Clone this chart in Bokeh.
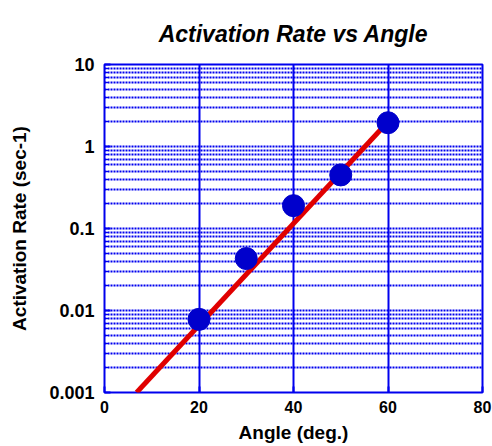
from bokeh.plotting import figure
from bokeh.models import FixedTicker, Range1d
from bokeh.embed import file_html
from bokeh.resources import INLINE

angles = [20, 30, 40, 50, 60]
rates = [0.0078, 0.043, 0.19, 0.45, 1.95]
fit_x = [6.8, 60]
fit_y = [0.001, 2.0]
x_ticks = [0, 20, 40, 60, 80]
y_ticks = [0.001, 0.01, 0.1, 1, 10]
y_labels = ["0.001", "0.01", "0.1", "1", "10"]
y_minor = [m * d for d in [0.001, 0.01, 0.1, 1] for m in range(2, 10)]

BLUE = "#0000ee"
FONT = "Liberation Sans"

p = figure(frame_width=378, frame_height=328, y_axis_type="log",
           x_range=Range1d(0, 80), y_range=Range1d(0.001, 10),
           output_backend="svg", toolbar_location=None,
           title="Activation Rate vs Angle",
           min_border_left=104, min_border_right=10,
           min_border_top=64, min_border_bottom=54)

p.title.align = "center"
p.title.text_font = FONT
p.title.text_font_style = "bold italic"
p.title.text_font_size = "23px"
p.title.text_color = "black"
p.title.standoff = 36

p.xaxis.ticker = FixedTicker(ticks=x_ticks, minor_ticks=[])
p.yaxis.ticker = FixedTicker(ticks=y_ticks, minor_ticks=y_minor)
p.yaxis.major_label_overrides = {t: l for t, l in zip(y_ticks, y_labels)}

for ax in (p.xaxis, p.yaxis):
    ax.axis_line_color = None
    ax.major_tick_out = 0
    ax.major_tick_in = 6
    ax.minor_tick_out = 0
    ax.minor_tick_in = 4
    ax.major_tick_line_color = BLUE
    ax.minor_tick_line_color = BLUE
    ax.major_tick_line_width = 2
    ax.major_label_text_font = FONT
    ax.major_label_text_font_style = "bold"
    ax.major_label_text_color = "black"
    ax.axis_label_text_font = FONT
    ax.axis_label_text_font_style = "bold"
    ax.axis_label_text_font_size = "19px"
    ax.axis_label_text_color = "black"

p.xaxis.major_label_text_font_size = "16px"
p.yaxis.major_label_text_font_size = "18px"
p.xaxis.axis_label = "Angle (deg.)"
p.yaxis.axis_label = "Activation Rate (sec-1)"
p.xaxis.major_label_standoff = 8
p.yaxis.major_label_standoff = 10
p.xaxis.axis_label_standoff = 6
p.yaxis.axis_label_standoff = 16

p.xgrid.grid_line_color = BLUE
p.xgrid.grid_line_width = 2
p.ygrid.grid_line_color = BLUE
p.ygrid.grid_line_width = 2
p.ygrid.grid_line_dash = "2 1"
p.ygrid.minor_grid_line_color = BLUE
p.ygrid.minor_grid_line_width = 2
p.ygrid.minor_grid_line_dash = "2 1"

p.outline_line_color = BLUE
p.outline_line_width = 2

p.line(fit_x, fit_y, line_color="#e00000", line_width=5)
p.scatter(angles, rates, size=22, fill_color="#0000cc", line_color="#0000cc")

open("out.html", "w").write(file_html(p, INLINE))
